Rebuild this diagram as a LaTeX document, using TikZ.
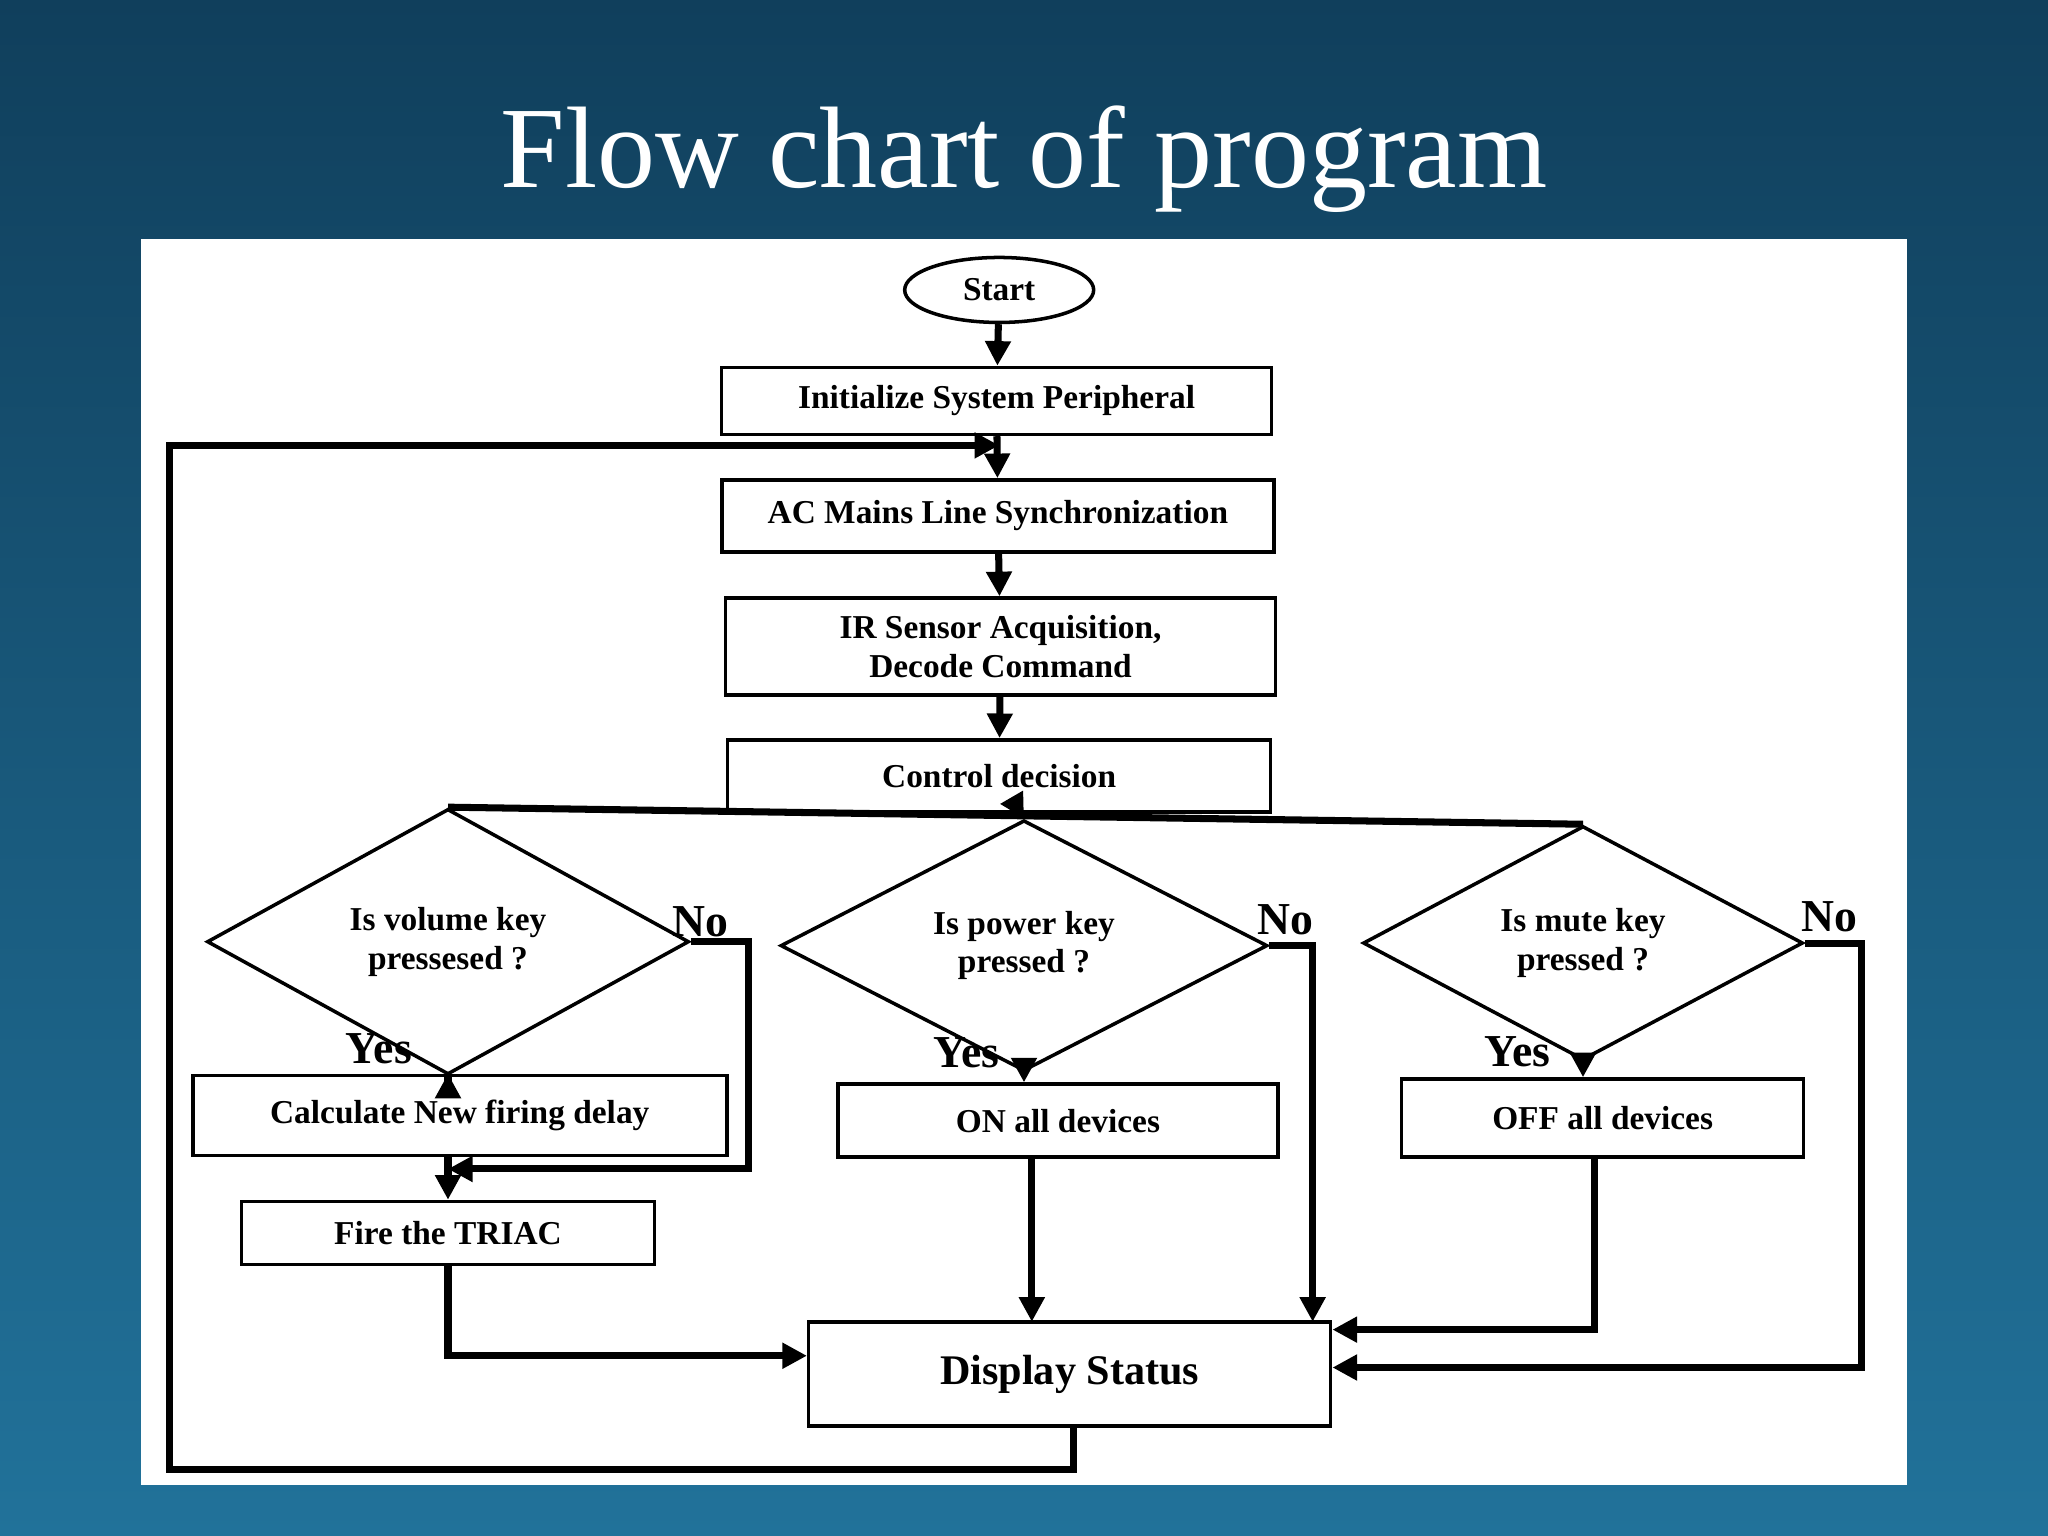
\documentclass[tikz,border=0pt]{standalone}
\usepackage{fontspec}
\setmainfont{Liberation Serif}
\usetikzlibrary{shapes.geometric,arrows.meta}
\definecolor{bgtop}{HTML}{103F5C}
\definecolor{bgbot}{HTML}{21729A}
\tikzset{
  box/.style={draw,line width=1pt,fill=white,font=\fontsize{9.5}{11}\selectfont\bfseries,align=center,inner sep=0pt},
  dec/.style={draw,diamond,line width=1pt,font=\fontsize{9.5}{11}\selectfont\bfseries,align=center,inner sep=0pt},
  flow/.style={line width=2pt,-{Triangle[length=7pt,width=7pt]}},
  line/.style={line width=2pt},
  lab/.style={font=\fontsize{13}{14}\selectfont\bfseries}
}
\begin{document}
\begin{tikzpicture}[x=0.013061cm,y=-0.013061cm]
        % Background and panel
        \shade[top color=bgtop,bottom color=bgbot] (0,0) rectangle (1568,1176);
        \useasboundingbox (0,0) rectangle (1568,1176);
        \fill[white] (108,183) rectangle (1460,1137);
        \node[white,font=\fontsize{33}{38}\selectfont] (title) at (784,122) {Flow chart of program};

        % Main chain
        \node[draw,ellipse,line width=1pt,minimum width=1.89cm,minimum height=0.65cm,font=\fontsize{9.5}{11}\selectfont\bfseries] (start) at (765,222) {Start};
        \node[box,minimum width=5.50cm,minimum height=0.67cm] (init) at (763,307) {Initialize System Peripheral};
        \node[box,minimum width=5.52cm,minimum height=0.72cm] (sync) at (764,395) {AC Mains Line Synchronization};
        \node[box,minimum width=5.50cm,minimum height=0.97cm] (ir) at (766,495) {IR Sensor Acquisition,\\Decode Command};
        \node[box,minimum width=5.43cm,minimum height=0.72cm] (ctrl) at (765,594) {Control decision};

        % Decisions
        \node[dec,minimum width=4.82cm,minimum height=1.68cm] (vol) at (343,721) {Is volume key\\pressesed ?};
        \node[dec,minimum width=4.87cm,minimum height=1.75cm] (pow) at (784,724) {Is power key\\pressed ?};
        \node[dec,minimum width=4.40cm,minimum height=1.71cm] (mute) at (1212,722) {Is mute key\\pressed ?};

        % Actions
        \node[box,minimum width=5.34cm,minimum height=0.80cm] (calc) at (352,854) {Calculate New firing delay};
        \node[box,minimum width=4.13cm,minimum height=0.63cm] (fire) at (343,944) {Fire the TRIAC};
        \node[box,minimum width=4.40cm,minimum height=0.73cm] (on) at (810,858) {ON all devices};
        \node[box,minimum width=4.02cm,minimum height=0.78cm] (off) at (1227,856) {OFF all devices};
        \node[box,minimum width=5.22cm,minimum height=1.04cm,font=\fontsize{12}{14}\selectfont\bfseries] (disp) at (819,1052) {Display Status};

        % Connectors
        \draw[flow] (start) -- (init);
        \draw[flow] (init) -- (sync);
        \draw[flow] (sync) -- (ir);
        \draw[flow] (ir) -- (ctrl);
        \draw[flow] (ctrl) -- (pow.north);
        \draw[line] (vol.north) -- (mute.north);
        \draw[flow] (vol.south) -- (vol.south |- calc.north);
        \draw[flow] (pow.south) -- (pow.south |- on.north);
        \draw[flow] (mute.south) -- (mute.south |- off.north);
        \draw[flow] (vol.south |- calc.south) -- (vol.south |- fire.north);
        \coordinate (vj) at (343,895);
        \draw[flow] (vol.east) -- (573,721) -- (573,895) -- (vj);
        \draw[flow] (pow.east) -- (1005,724) -- (1005,1012);
        \draw[flow] (mute.east) -- (1425,722) -- (1425,1047) -- (disp.east |- 0,1047);
        \draw[flow] (off.south -| 1221,0) -- (1221,1018) -- (disp.east |- 0,1018);
        \draw[flow] (on.south -| 790,0) -- (790,1012);
        \draw[flow] (fire.south) -- (343,1038) -- (disp.west |- 0,1038);
        \coordinate (back) at (765,341);
        \draw[flow] (disp.south -| 822,0) -- (822,1125) -- (130,1125) -- (130,341) -- (back);

        % Yes / No labels
        \node[lab] (y1) at (290,803) {Yes};
        \node[lab] (y2) at (740,806) {Yes};
        \node[lab] (y3) at (1162,805) {Yes};
        \node[lab] (n1) at (536,706) {No};
        \node[lab] (n2) at (984,704) {No};
        \node[lab] (n3) at (1401,702) {No};
    \end{tikzpicture}
\end{document}
